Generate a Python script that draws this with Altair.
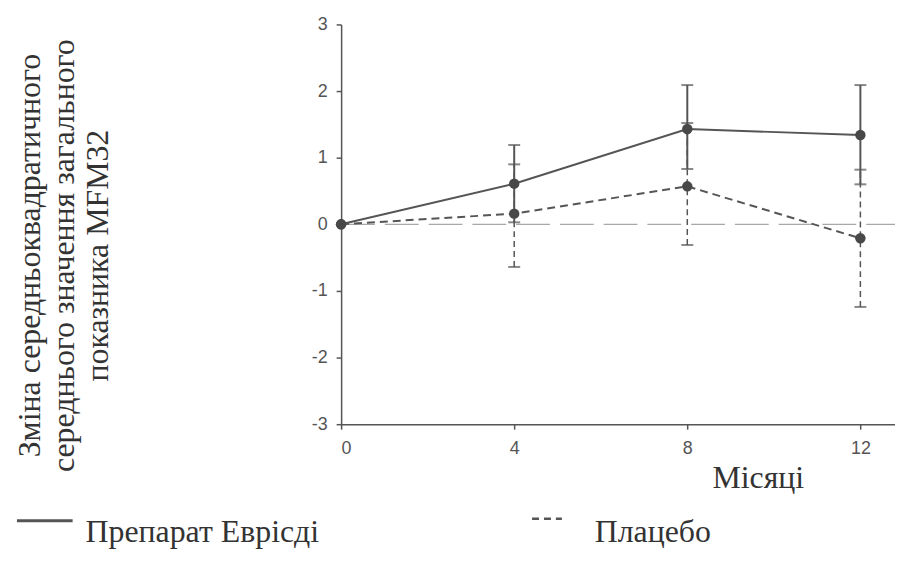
import altair as alt
import pandas as pd

# ---- data ----
months = [0, 4, 8, 12]
evrysdi_mean = [0.0, 0.61, 1.43, 1.34]
evrysdi_lower = [0.0, 0.03, 0.83, 0.60]
evrysdi_upper = [0.0, 1.19, 2.09, 2.09]
placebo_mean = [0.0, 0.16, 0.57, -0.21]
placebo_lower = [0.0, -0.64, -0.31, -1.24]
placebo_upper = [0.0, 0.90, 1.52, 0.82]

x_ticks = [0, 4, 8, 12]
y_ticks = [-3, -2, -1, 0, 1, 2, 3]

y_title = ["Зміна середньоквадратичного", "середнього значення загального", "показника MFM32"]
x_title = "Місяці"
legend_names = ["Препарат Еврісді", "Плацебо"]

W, H = 557, 402
SERIF = "Liberation Serif"
SANS = "Liberation Sans"
INK = "#555555"

ev = pd.DataFrame({"m": months, "v": evrysdi_mean, "lo": evrysdi_lower, "hi": evrysdi_upper})
pl = pd.DataFrame({"m": months, "v": placebo_mean, "lo": placebo_lower, "hi": placebo_upper})
ev_err = ev[ev.lo != ev.hi]
pl_err = pl[pl.lo != pl.hi]

xs = alt.Scale(domain=[0, 12.8], nice=False, zero=False)
ys = alt.Scale(domain=[-3, 3], nice=False)

x_axis = alt.Axis(values=x_ticks, grid=False, title=x_title, titleFont=SERIF, titleFontSize=32,
                  titleFontWeight="normal", titleColor="#333333", titleX=419, titleY=64,
                  titleAlign="center", titleBaseline="alphabetic",
                  labelExpr="'' + datum.value",
                  labelFont=SANS, labelFontSize=18, labelColor=INK, labelPadding=10,
                  tickSize=5, tickColor=INK, domainColor=INK, domainWidth=1.5, tickWidth=1.5)
y_axis = alt.Axis(values=y_ticks, grid=False, title=y_title, titleFont=SERIF, titleFontSize=32,
                  titleFontWeight="normal", titleColor="#333333", titleAngle=270,
                  titleX=-303, titleY=232, titleAlign="center", titleBaseline="alphabetic",
                  titleLineHeight=34,
                  labelExpr="'' + datum.value",
                  labelFont=SANS, labelFontSize=18, labelColor=INK, labelPadding=9,
                  tickSize=5, tickColor=INK, domainColor=INK, domainWidth=1.5, tickWidth=1.5)

X = alt.X("m:Q", scale=xs, axis=x_axis)
Y = alt.Y("v:Q", scale=ys, axis=y_axis)

zero = alt.Chart(pd.DataFrame({"z": [0]})).mark_rule(
    color="#a8a8a8", strokeWidth=1.2, strokeDash=[34, 10]
).encode(y=alt.Y("z:Q", scale=ys), x=alt.value(0), x2=alt.value(W))

ev_line = alt.Chart(ev).mark_line(color=INK, strokeWidth=2).encode(x=X, y=Y)
pl_line = alt.Chart(pl).mark_line(color=INK, strokeWidth=2, strokeDash=[8, 5]).encode(
    x=alt.X("m:Q", scale=xs), y=alt.Y("v:Q", scale=ys))

ev_bar = alt.Chart(ev_err).mark_rule(color=INK, strokeWidth=2).encode(
    x=alt.X("m:Q", scale=xs), y=alt.Y("lo:Q", scale=ys), y2="hi:Q")
pl_bar = alt.Chart(pl_err).mark_rule(color=INK, strokeWidth=1.5, strokeDash=[6, 4]).encode(
    x=alt.X("m:Q", scale=xs), y=alt.Y("lo:Q", scale=ys), y2="hi:Q")

def caps(df, field):
    return alt.Chart(df).mark_tick(color=INK, size=12, thickness=2, orient="horizontal").encode(
        x=alt.X("m:Q", scale=xs), y=alt.Y(f"{field}:Q", scale=ys))

ev_pts = alt.Chart(ev).mark_point(filled=True, color="#484848", size=110, opacity=1).encode(
    x=alt.X("m:Q", scale=xs), y=alt.Y("v:Q", scale=ys))
pl_pts = alt.Chart(pl).mark_point(filled=True, color="#484848", size=110, opacity=1).encode(
    x=alt.X("m:Q", scale=xs), y=alt.Y("v:Q", scale=ys))

one = pd.DataFrame({"a": [0]})
leg_sw1 = alt.Chart(one).mark_rule(color=INK, strokeWidth=3).encode(
    x=alt.value(-326), x2=alt.value(-270), y=alt.value(499))
leg_sw2 = alt.Chart(one).mark_rule(color=INK, strokeWidth=2.5, strokeDash=[7, 5]).encode(
    x=alt.value(192), x2=alt.value(222), y=alt.value(497))
leg_t1 = alt.Chart(pd.DataFrame({"t": [legend_names[0]]})).mark_text(
    align="left", baseline="alphabetic", font=SERIF, fontSize=32, color="#333333"
).encode(text="t:N", x=alt.value(-257), y=alt.value(520))
leg_t2 = alt.Chart(pd.DataFrame({"t": [legend_names[1]]})).mark_text(
    align="left", baseline="alphabetic", font=SERIF, fontSize=32, color="#333333"
).encode(text="t:N", x=alt.value(255), y=alt.value(520))

chart = alt.layer(
    zero, ev_line, pl_line, ev_bar, pl_bar,
    caps(ev_err, "lo"), caps(ev_err, "hi"), caps(pl_err, "lo"), caps(pl_err, "hi"),
    ev_pts, pl_pts, leg_sw1, leg_sw2, leg_t1, leg_t2
).properties(
    width=W, height=H,
    autosize=alt.AutoSizeParams(type="none"),
    padding={"left": 335, "top": 15, "right": 0, "bottom": 127},
    background="white",
).configure_view(stroke=None)

chart.save("out.html", embed_options={"renderer": "svg", "actions": False})
